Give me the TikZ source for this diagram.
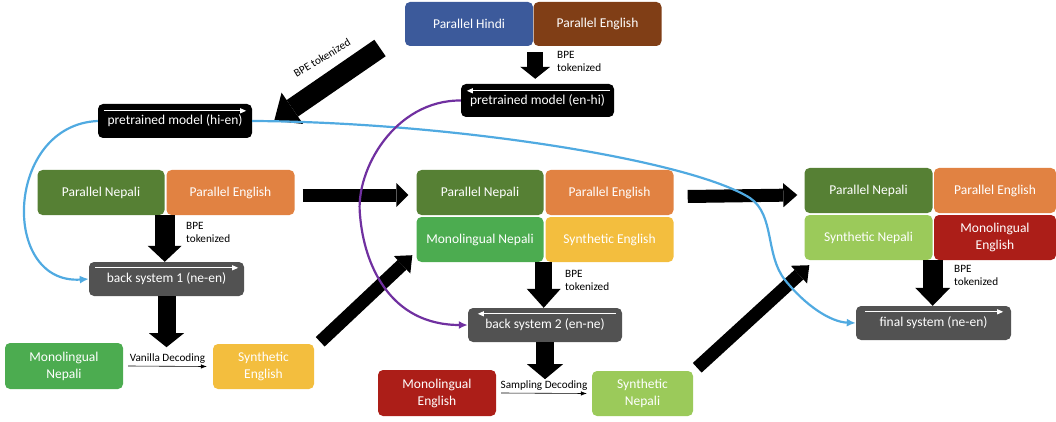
\documentclass[tikz,border=0pt]{standalone}
\usepackage{fontspec}
\setmainfont{Carlito}
\usetikzlibrary{arrows.meta,calc}
\definecolor{cHindi}{RGB}{60,90,155}
\definecolor{cBrown}{RGB}{128,62,22}
\definecolor{cDkGreen}{RGB}{86,128,52}
\definecolor{cOrange}{RGB}{225,130,66}
\definecolor{cGrey}{RGB}{82,82,82}
\definecolor{cGreen}{RGB}{76,172,80}
\definecolor{cYellow}{RGB}{243,190,62}
\definecolor{cRed}{RGB}{172,30,24}
\definecolor{cLtGreen}{RGB}{155,202,90}
\definecolor{cBlueLine}{RGB}{80,170,225}
\definecolor{cPurple}{RGB}{112,48,160}
\begin{document}
\begin{tikzpicture}[x=1pt,y=-1pt,
  bx/.style n args={3}{fill=#1, rounded corners=5pt, minimum width=#2pt, minimum height=#3pt,
     inner sep=0pt, text=white, font=\fontsize{13.5}{17}\selectfont, align=center},
  blk/.style n args={3}{draw=black, line width=#1pt, -{Triangle[length=#3pt,width=#2pt,line width=0pt]}},
  thinarr/.style={draw=black, line width=0.6pt, -{Latex[length=6pt,width=4.5pt]}},
  wline/.style={draw=white, line width=0.9pt, -{Triangle[length=6pt,width=5pt]}},
  lbl/.style={font=\fontsize{11.2}{13.5}\selectfont, align=left, anchor=north west, inner sep=0pt},
  dlbl/.style={font=\fontsize{11.2}{13}\selectfont, inner sep=1pt},
  curve/.style={line width=2.2pt, -{Latex[length=9pt,width=8pt]}}
]
\useasboundingbox (0,0) rectangle (1056,422);

% top
\node[bx={cHindi}{128}{44}] (hindi) at (469,24) {Parallel Hindi};
\node[bx={cBrown}{128}{44}] (en0) at (597.5,24) {Parallel English};
\node[bx={black}{153}{33}] (pmEnHi) at (537.5,100.5) {\raisebox{-5pt}{pretrained model (en-hi)}};
\node[bx={black}{154}{34}] (pmHiEn) at (175,121) {\raisebox{-5pt}{pretrained model (hi-en)}};

% left column
\node[bx={cDkGreen}{127}{45}] (pn1) at (101,192.5) {Parallel Nepali};
\node[bx={cOrange}{128}{45}] (pe1) at (230.5,192.5) {Parallel English};
\node[bx={cGrey}{155}{34}] (bs1) at (166.5,279) {\raisebox{-5pt}{back system 1 (ne-en)}};
\node[bx={cGreen}{118}{46}] (mn1) at (64,366) {Monolingual\\Nepali};
\node[bx={cYellow}{101}{45}] (se1) at (263.5,366.5) {Synthetic\\English};

% middle column
\node[bx={cDkGreen}{127}{45}] (pn2) at (480,192.5) {Parallel Nepali};
\node[bx={cOrange}{128}{45}] (pe2) at (609.5,192.5) {Parallel English};
\node[bx={cGreen}{127}{45}] (mn2) at (480,239.5) {Monolingual Nepali};
\node[bx={cYellow}{128}{45}] (se2) at (609.5,239.5) {Synthetic English};
\node[bx={cGrey}{154}{34}] (bs2) at (545,325) {\raisebox{-5pt}{back system 2 (en-ne)}};
\node[bx={cRed}{118}{46}] (me2) at (437,393) {Monolingual\\English};
\node[bx={cLtGreen}{101}{45}] (sn2) at (642.5,393.5) {Synthetic\\Nepali};

% right column
\node[bx={cDkGreen}{128}{45}] (pn3) at (868.5,190.5) {Parallel Nepali};
\node[bx={cOrange}{122}{45}] (pe3) at (995,190.5) {Parallel English};
\node[bx={cLtGreen}{128}{45}] (sn3) at (868.5,237.5) {Synthetic Nepali};
\node[bx={cRed}{122}{45}] (me3) at (995,237.5) {Monolingual\\English};
\node[bx={cGrey}{155}{34}] (fs) at (933.5,323) {\raisebox{-5pt}{final system (ne-en)}};

% white direction arrows inside model boxes
\draw[wline] ([shift={(6,7)}]pmHiEn.north west) -- ([shift={(-6,7)}]pmHiEn.north east);
\draw[wline] ([shift={(-4,7)}]pmEnHi.north east) -- ([shift={(6,7)}]pmEnHi.north west);
\draw[wline] ([shift={(6,6)}]bs1.north west) -- ([shift={(-6,6)}]bs1.north east);
\draw[wline] ([shift={(-6,6)}]bs2.north east) -- ([shift={(10,6)}]bs2.north west);
\draw[wline] ([shift={(9,6)}]fs.north west) -- ([shift={(-8,6)}]fs.north east);

% block arrows
\coordinate (bpeTail) at (380,48);
\draw[blk={20}{38}{22}] (bpeTail) -- ([xshift=22pt,yshift=-17pt]pmHiEn.north east);
\node[dlbl, rotate=31] (bpeDiag) at (322,58) {BPE tokenized};
\draw[blk={16}{30}{12}] ([shift={(2,6)}]hindi.south east) -- ([xshift=2pt,yshift=5pt]hindi.south east |- pmEnHi.north);
\draw[blk={20}{34}{16}] (pn1.south east) -- (pn1.south east |- bs1.north);
\draw[blk={18}{35}{14}] (bs1.south) -- ++(0,51);
\draw[blk={17}{34}{19}] (mn2.south east) -- (mn2.south east |- bs2.north);
\draw[blk={18}{36}{15}] (bs2.south) -- ++(0,37);
\draw[blk={20}{35}{18}] (sn3.south east) -- (sn3.south east |- fs.north);
\draw[blk={13}{24}{12}] ([shift={(8,2.5)}]pe1.east) -- ([shift={(-8,2.5)}]pn2.west);
\draw[blk={13}{24}{14}] ([shift={(14,4)}]pe2.east) -- ([shift={(-7,4.5)}]pn3.west);
\draw[blk={13}{24}{14}] ([shift={(6,-2)}]se1.north east) -- ([shift={(-4,-7)}]mn2.south west);
\draw[blk={13}{24}{14}] ([shift={(4,-3)}]sn2.north east) -- ([shift={(5,5)}]sn3.south west);

% BPE labels
\node[lbl] (bpe0) at (557,51) {BPE\\tokenized};
\node[lbl] (bpe1) at (186,222) {BPE\\tokenized};
\node[lbl] (bpe2) at (565,270) {BPE\\tokenized};
\node[lbl] (bpe3) at (954,265) {BPE\\tokenized};

% decoding arrows
\draw[thinarr] ([xshift=5pt]mn1.east) -- ([xshift=-6pt]se1.west)
  node[dlbl, midway, above=2pt] (vanilla) {Vanilla Decoding};
\draw[thinarr] ([xshift=5pt]me2.east) -- ([xshift=-5pt]sn2.west)
  node[dlbl, midway, above=2pt] (sampling) {Sampling Decoding};

% curves
\draw[curve, cBlueLine] (pmHiEn.west) .. controls (5,125) and (0,285) .. (bs1.west);
\draw[curve, cBlueLine] (pmHiEn.east) .. controls (450,122) and (690,160) .. (750,198)
   .. controls (775,215) and (765,255) .. (785,280)
   .. controls (805,305) and (830,322) .. (fs.west);
\draw[curve, cPurple] (pmEnHi.west) .. controls (395,100) and (355,170) .. (360,215)
   .. controls (364,265) and (390,325) .. (bs2.west);
\end{tikzpicture}
\end{document}
